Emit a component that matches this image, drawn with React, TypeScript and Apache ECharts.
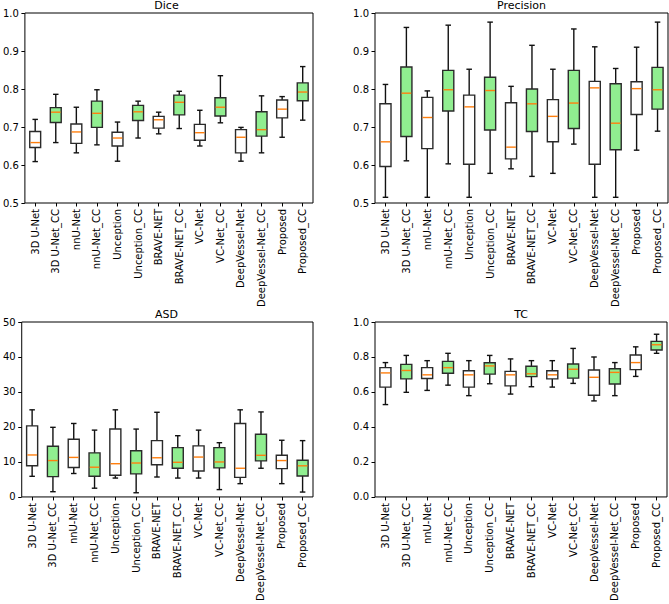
import React, { useEffect, useRef } from "react";
import * as echarts from "echarts";

const categories = [
  "3D U-Net", "3D U-Net_CC", "nnU-Net", "nnU-Net_CC", "Unception", "Unception_CC",
  "BRAVE-NET", "BRAVE-NET_CC", "VC-Net", "VC-Net_CC", "DeepVessel-Net",
  "DeepVessel-Net_CC", "Proposed", "Proposed_CC",
];

// [low whisker, Q1, median, Q3, high whisker]
const diceStats = [
  [0.609, 0.646, 0.659, 0.688, 0.720],
  [0.659, 0.712, 0.739, 0.751, 0.786],
  [0.632, 0.657, 0.687, 0.708, 0.752],
  [0.653, 0.699, 0.736, 0.768, 0.798],
  [0.610, 0.650, 0.671, 0.686, 0.713],
  [0.671, 0.717, 0.740, 0.757, 0.768],
  [0.682, 0.697, 0.719, 0.728, 0.739],
  [0.696, 0.732, 0.765, 0.784, 0.794],
  [0.650, 0.665, 0.685, 0.707, 0.744],
  [0.711, 0.729, 0.752, 0.777, 0.835],
  [0.610, 0.632, 0.673, 0.693, 0.699],
  [0.632, 0.676, 0.693, 0.740, 0.782],
  [0.673, 0.724, 0.747, 0.771, 0.780],
  [0.718, 0.769, 0.792, 0.816, 0.859],
];

const precisionStats = [
  [0.515, 0.596, 0.661, 0.761, 0.812],
  [0.611, 0.675, 0.789, 0.858, 0.962],
  [0.515, 0.643, 0.725, 0.778, 0.795],
  [0.603, 0.742, 0.798, 0.849, 0.968],
  [0.515, 0.602, 0.753, 0.784, 0.852],
  [0.578, 0.692, 0.796, 0.831, 0.976],
  [0.590, 0.616, 0.647, 0.764, 0.807],
  [0.570, 0.688, 0.761, 0.800, 0.915],
  [0.578, 0.661, 0.728, 0.772, 0.852],
  [0.655, 0.696, 0.763, 0.849, 0.958],
  [0.515, 0.602, 0.803, 0.820, 0.911],
  [0.515, 0.640, 0.710, 0.814, 0.854],
  [0.639, 0.733, 0.801, 0.819, 0.910],
  [0.689, 0.747, 0.798, 0.857, 0.976],
];

const asdStats = [
  [5.9, 8.9, 12.0, 20.3, 24.9],
  [1.5, 5.8, 10.4, 14.5, 19.9],
  [6.7, 8.4, 11.3, 16.5, 21.0],
  [2.5, 5.9, 8.5, 12.6, 19.1],
  [5.4, 6.2, 9.5, 19.4, 24.9],
  [1.2, 6.6, 9.7, 13.2, 19.4],
  [5.7, 9.2, 11.2, 16.1, 24.2],
  [5.4, 8.2, 9.9, 14.1, 17.5],
  [5.4, 7.4, 11.4, 14.6, 19.1],
  [2.1, 8.3, 10.0, 14.1, 15.5],
  [3.8, 5.6, 8.2, 21.0, 24.9],
  [8.2, 10.3, 11.9, 17.9, 24.3],
  [3.8, 8.1, 10.4, 11.9, 16.2],
  [1.4, 6.0, 8.9, 10.5, 16.1],
];

const tcStats = [
  [0.528, 0.628, 0.709, 0.739, 0.768],
  [0.598, 0.675, 0.723, 0.758, 0.809],
  [0.609, 0.677, 0.698, 0.739, 0.779],
  [0.639, 0.707, 0.739, 0.775, 0.821],
  [0.579, 0.628, 0.698, 0.721, 0.779],
  [0.647, 0.702, 0.749, 0.767, 0.809],
  [0.588, 0.635, 0.698, 0.718, 0.789],
  [0.630, 0.688, 0.704, 0.747, 0.779],
  [0.628, 0.675, 0.698, 0.721, 0.779],
  [0.649, 0.679, 0.730, 0.760, 0.849],
  [0.549, 0.581, 0.684, 0.726, 0.800],
  [0.579, 0.646, 0.712, 0.733, 0.768],
  [0.689, 0.728, 0.768, 0.811, 0.858],
  [0.821, 0.840, 0.870, 0.889, 0.930],
];

const panelTitles = ["Dice", "Precision", "ASD", "TC"];
const yMins = [0.5, 0.5, 0, 0];
const yMaxs = [1.0, 1.0, 50, 1.0];
const yIntervals = [0.1, 0.1, 10, 0.2];
const yDecimals = [1, 1, 0, 1];

const FONT = "DejaVu Sans";

export default function App() {
  const ref = useRef<HTMLDivElement>(null);

  useEffect(() => {
    if (!ref.current) return;
    const chart = echarts.init(ref.current, undefined, { renderer: "svg" });
    const allStats = [diceStats, precisionStats, asdStats, tcStats];
    const grids = [
      { left: 20, top: 13, width: 293, height: 190 },
      { left: 375, top: 13, width: 293, height: 190 },
      { left: 20, top: 322, width: 293, height: 190 },
      { left: 375, top: 322, width: 292, height: 190 },
    ];

    const renderItem = (params: any, api: any) => {
      const x = api.value(0);
      const lo = api.coord([x, api.value(1)]);
      const q1 = api.coord([x, api.value(2)]);
      const md = api.coord([x, api.value(3)]);
      const q3 = api.coord([x, api.value(4)]);
      const hi = api.coord([x, api.value(5)]);
      const isCC = api.value(6) === 1;
      const band = api.size([1, 0])[0];
      const bw = band * 0.53;
      const cw = bw / 2;
      const cx = lo[0];
      const wStyle = { stroke: "#111", lineWidth: 1.4 };
      return {
        type: "group",
        children: [
          { type: "line", shape: { x1: cx, y1: lo[1], x2: cx, y2: q1[1] }, style: wStyle },
          { type: "line", shape: { x1: cx, y1: q3[1], x2: cx, y2: hi[1] }, style: wStyle },
          { type: "line", shape: { x1: cx - cw / 2, y1: lo[1], x2: cx + cw / 2, y2: lo[1] }, style: wStyle },
          { type: "line", shape: { x1: cx - cw / 2, y1: hi[1], x2: cx + cw / 2, y2: hi[1] }, style: wStyle },
          {
            type: "rect",
            shape: { x: cx - bw / 2, y: q3[1], width: bw, height: q1[1] - q3[1] },
            style: { fill: isCC ? "#90ee90" : "#ffffff", stroke: "#2a2a2a", lineWidth: 1.4 },
          },
          {
            type: "line",
            shape: { x1: cx - bw / 2 + 0.7, y1: md[1], x2: cx + bw / 2 - 0.7, y2: md[1] },
            style: { stroke: "#ff7f0e", lineWidth: 1.4 },
          },
        ],
      };
    };

    const option: any = {
      animation: false,
      backgroundColor: "#ffffff",
      textStyle: { fontFamily: FONT },
      title: panelTitles.map((t, i) => ({
        text: t,
        left: grids[i].left + grids[i].width / 2,
        top: Math.max(0, grids[i].top - 13),
        textAlign: "center",
        padding: 0,
        textStyle: { fontFamily: FONT, fontSize: 11, fontWeight: "normal", color: "#000" },
      })),
      grid: grids.map((g) => ({
        ...g,
        show: true,
        borderColor: "#000",
        borderWidth: 1,
        backgroundColor: "transparent",
      })),
      xAxis: grids.map((_, i) => ({
        type: "category",
        gridIndex: i,
        data: categories,
        boundaryGap: true,
        axisLine: { show: false },
        axisTick: { show: true, alignWithLabel: true, length: 3.5, lineStyle: { color: "#000" } },
        axisLabel: {
          rotate: 90,
          interval: 0,
          margin: 6,
          fontFamily: FONT,
          fontSize: 10,
          color: "#000",
        },
        splitLine: { show: false },
      })),
      yAxis: grids.map((_, i) => ({
        type: "value",
        gridIndex: i,
        min: yMins[i],
        max: yMaxs[i],
        interval: yIntervals[i],
        axisLine: { show: false },
        axisTick: { show: true, length: 3.5, lineStyle: { color: "#000" } },
        axisLabel: {
          margin: 6,
          fontFamily: FONT,
          fontSize: 10,
          color: "#000",
          formatter: (v: number) => v.toFixed(yDecimals[i]),
        },
        splitLine: { show: false },
      })),
      series: allStats.map((stats, i) => ({
        type: "custom",
        xAxisIndex: i,
        yAxisIndex: i,
        renderItem,
        encode: { x: 0, y: [1, 2, 3, 4, 5] },
        data: stats.map((s, k) => [k, ...s, categories[k].endsWith("_CC") ? 1 : 0]),
        clip: false,
      })),
    };
    chart.setOption(option);
    return () => chart.dispose();
  }, []);

  return (
    <div
      ref={ref}
      style={{ position: "absolute", left: 0, top: 0, width: 669, height: 604 }}
    />
  );
}
